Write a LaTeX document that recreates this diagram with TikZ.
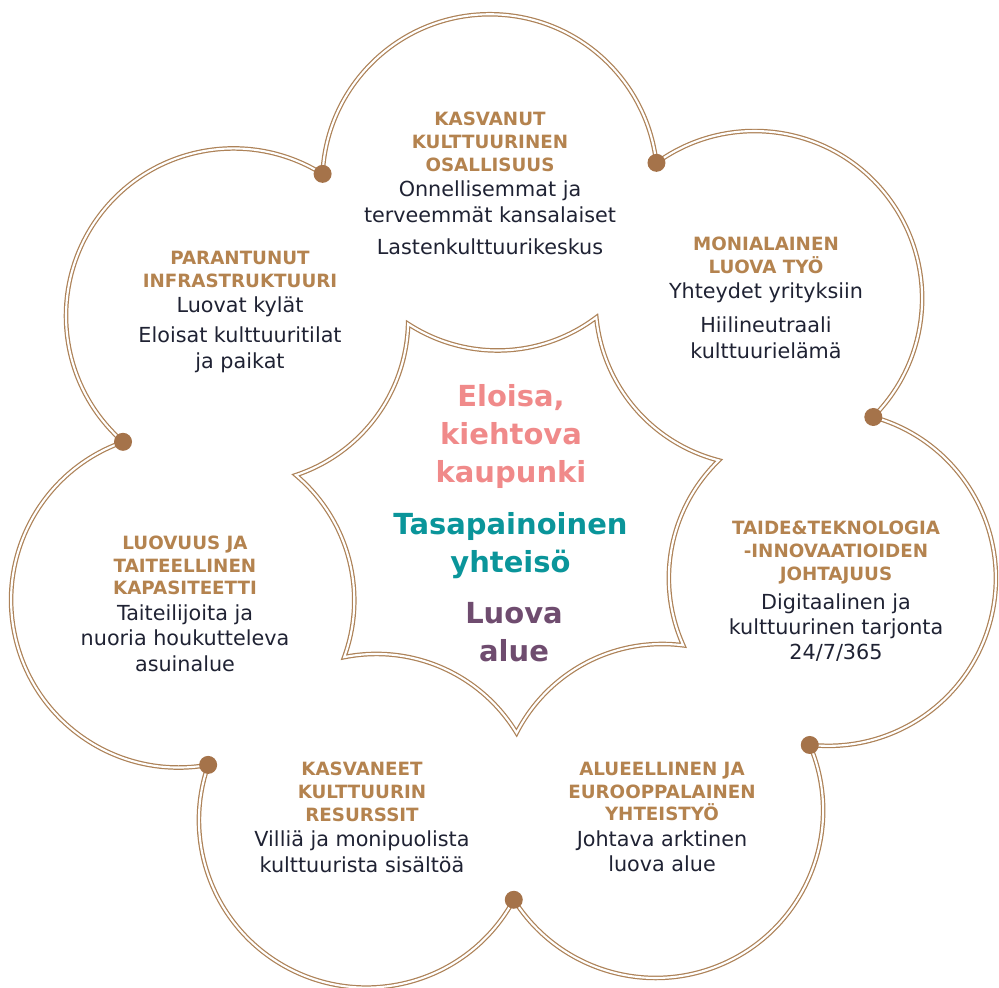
\documentclass[tikz,border=0pt]{standalone}
\usepackage{fontspec}
\setmainfont{DejaVu Sans}
\usetikzlibrary{positioning}
\definecolor{lineclr}{HTML}{AD8258}
\definecolor{jointclr}{HTML}{A5734A}
\definecolor{titleclr}{HTML}{B4834F}
\definecolor{textclr}{HTML}{1F2233}
\definecolor{cityclr}{HTML}{F08A8A}
\definecolor{commclr}{HTML}{0A959A}
\definecolor{regionclr}{HTML}{6F4C6F}
\tikzset{
  petalline/.style={draw=lineclr,line width=0.7pt,double=white,double distance=1.2pt},
  starside/.style={bend right=35,looseness=0.94},
  joint/.style={circle,fill=jointclr,inner sep=0pt,minimum size=3.6mm},
  goaltitle/.style={anchor=north,inner sep=0pt,align=center,text=titleclr,font=\fontsize{10.4}{13}\selectfont\bfseries},
  goaltext/.style={below=5pt of #1,inner sep=0pt,align=center,text=textclr,font=\fontsize{11.8}{14.5}\selectfont},
  vision/.style={anchor=north,inner sep=0pt,align=center,font=\fontsize{16.5}{21.5}\selectfont\bfseries}
}
\begin{document}
\begin{tikzpicture}[x=0.02cm,y=-0.02cm]
  \useasboundingbox (0,0) rectangle (999,987);
  \begin{scope}[shift={(501,515)}]
    \foreach \k in {0,...,6} \coordinate (p\k) at ({88.1+51.43*\k}:385);
  \end{scope}
  \begin{scope}[shift={(509,516)}]
    \foreach \k in {0,...,6} \coordinate (s\k) at ({88+51.43*\k}:217);
  \end{scope}
  \foreach \k in {0,...,6}
    \draw[petalline] (p\k) arc[start angle={88.1+51.43*\k+25.71-85.4},end angle={88.1+51.43*\k+25.71+85.4},radius=167.5];
  \foreach \k in {0,...,6} \node[joint] (j\k) at (p\k) {};
  \draw[petalline] (s0) to[starside] (s1) to[starside] (s2) to[starside] (s3) to[starside] (s4)
    to[starside] (s5) to[starside] (s6) to[starside] cycle;

  \node[goaltitle] (t1) at (490,111.5) {KASVANUT\\KULTTUURINEN\\OSALLISUUS};
  \node[goaltext=t1] (b1) {Onnellisemmat ja\\terveemmät kansalaiset\\[3.7pt]Lastenkulttuurikeskus};
  \node[goaltitle] (t2) at (766,236.5) {MONIALAINEN\\LUOVA TYÖ};
  \node[goaltext=t2] (b2) {Yhteydet yrityksiin\\[4.8pt]Hiilineutraali\\kulttuurielämä};
  \node[goaltitle] (t3) at (836,520.5) {TAIDE\&TEKNOLOGIA\\-INNOVAATIOIDEN\\JOHTAJUUS};
  \node[goaltext=t3] (b3) {Digitaalinen ja\\kulttuurinen tarjonta\\24/7/365};
  \node[goaltitle] (t4) at (662,761.5) {ALUEELLINEN JA\\EUROOPPALAINEN\\YHTEISTYÖ};
  \node[goaltext=t4] (b4) {Johtava arktinen\\luova alue};
  \node[goaltitle] (t5) at (362,761.5) {KASVANEET\\KULTTUURIN\\RESURSSIT};
  \node[goaltext=t5] (b5) {Villiä ja monipuolista\\kulttuurista sisältöä};
  \node[goaltitle] (t6) at (185,535.3) {LUOVUUS JA\\TAITEELLINEN\\KAPASITEETTI};
  \node[goaltext=t6] (b6) {Taiteilijoita ja\\nuoria houkutteleva\\asuinalue};
  \node[goaltitle] (t7) at (240,250.5) {PARANTUNUT\\INFRASTRUKTUURI};
  \node[goaltext=t7] (b7) {Luovat kylät\\[2.6pt]Eloisat kulttuuritilat\\ja paikat};

  \node[vision,text=cityclr] (city) at (511,384.5) {Eloisa,\\kiehtova\\kaupunki};
  \node[vision,text=commclr] (community) at (510.5,512) {Tasapainoinen\\yhteisö};
  \node[vision,text=regionclr] (region) at (514,602) {Luova\\alue};
\end{tikzpicture}
\end{document}
